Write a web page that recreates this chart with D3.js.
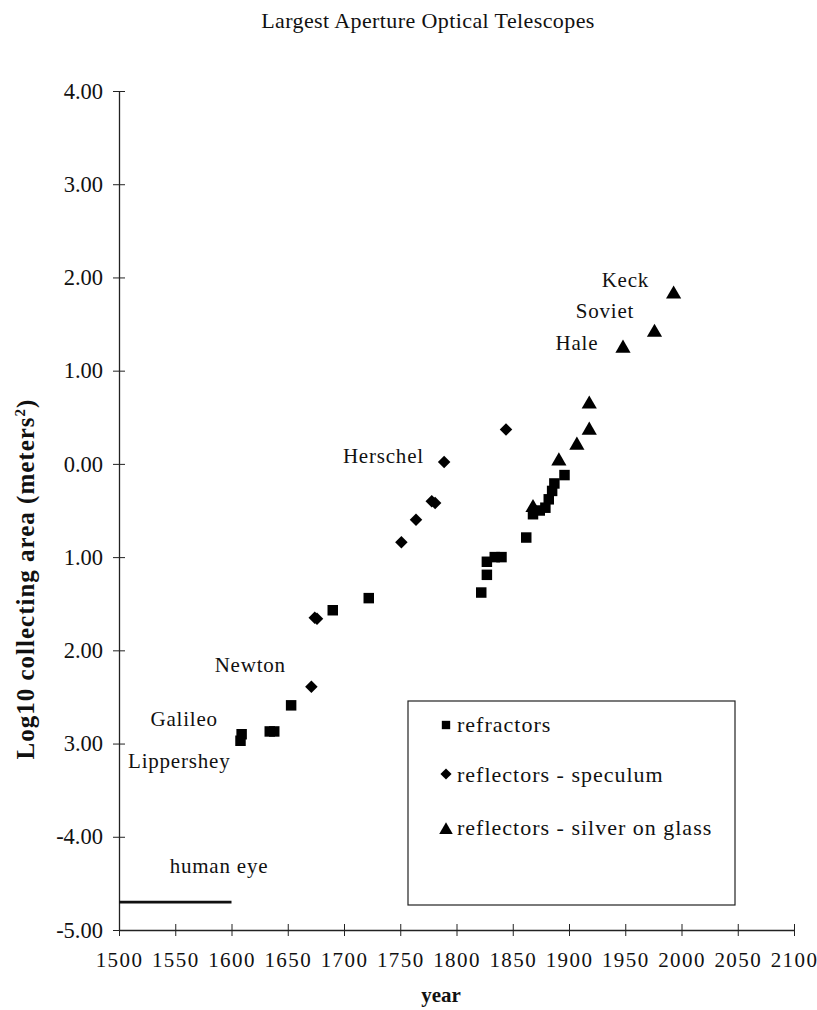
<!DOCTYPE html>
<html>
<head>
<meta charset="utf-8">
<style>
body { margin: 0; background: #fff; }
svg text { font-family: "Liberation Serif", "DejaVu Serif", serif; fill: #111; }
</style>
</head>
<body>
<div id="chart"></div>
<script src="https://cdn.jsdelivr.net/npm/d3@7.8.3/dist/d3.min.js"></script>
<script>
// telescope data (year, log10 area in m^2)
const refractorYears  = [1608, 1609, 1634, 1638, 1653, 1690, 1722, 1822, 1827, 1827, 1834, 1840, 1862, 1868, 1874, 1879, 1882, 1885, 1887, 1896];
const refractorValues = [-2.97, -2.90, -2.87, -2.87, -2.59, -1.57, -1.44, -1.38, -1.19, -1.05, -1.00, -1.00, -0.79, -0.54, -0.50, -0.47, -0.38, -0.29, -0.21, -0.12];

const speculumYears  = [1671, 1674, 1676, 1751, 1764, 1778, 1781, 1789, 1844];
const speculumValues = [-2.39, -1.65, -1.66, -0.84, -0.60, -0.40, -0.42, 0.02, 0.37];

const silverYears  = [1868, 1891, 1907, 1918, 1918, 1948, 1976, 1993];
const silverValues = [-0.47, 0.03, 0.20, 0.36, 0.64, 1.24, 1.41, 1.82];

const eyeYears = [1500, 1600];
const eyeValue = -4.7;

const yTickValues = [4, 3, 2, 1, 0, -1, -2, -3, -4, -5];
const yTickLabels = ["4.00", "3.00", "2.00", "1.00", "0.00", "1.00", "2.00", "3.00", "-4.00", "-5.00"];
const xTickValues = d3.range(1500, 2101, 50);

const nameLabels = ["Keck", "Soviet", "Hale", "Herschel", "Newton", "Galileo", "Lippershey", "human eye"];
const nameYears  = [1929, 1906, 1888, 1699, 1585, 1528, 1508, 1545];
const nameValues = [1.90, 1.57, 1.22, 0.01, -2.23, -2.81, -3.26, -4.39];

const legendLabels = ["refractors", "reflectors - speculum", "reflectors - silver on glass"];

const width = 817, height = 1010;

const svg = d3.select("#chart").append("svg")
    .attr("width", width)
    .attr("height", height);

const x = d3.scaleLinear().domain([1500, 2100]).range([119, 794]);
const y = d3.scaleLinear().domain([-5, 4]).range([930, 91]);

// title
svg.append("text")
    .attr("x", 428).attr("y", 28)
    .attr("text-anchor", "middle")
    .style("font-size", "22px")
    .style("letter-spacing", "0.4px")
    .text("Largest Aperture Optical Telescopes");

// y axis
const yAxis = svg.append("g")
    .attr("transform", `translate(${x(1500)},0)`)
    .call(d3.axisLeft(y)
        .tickValues(yTickValues)
        .tickSizeInner(6).tickSizeOuter(0)
        .tickFormat((d, i) => yTickLabels[i]));
yAxis.select(".domain").attr("stroke", "#222").attr("stroke-width", 1.3);
yAxis.selectAll(".tick line").attr("x2", 12).attr("transform", "translate(-6,0)").attr("stroke", "#222");
yAxis.selectAll(".tick text").attr("x", -16)
    .style("font-size", "22.5px").style("font-family", "'Liberation Serif', serif").attr("fill", "#111");

// x axis
const xAxis = svg.append("g")
    .attr("transform", `translate(0,${y(-5)})`)
    .call(d3.axisBottom(x)
        .tickValues(xTickValues)
        .tickSizeInner(6).tickSizeOuter(0)
        .tickFormat(d3.format("d")));
xAxis.select(".domain").attr("stroke", "#222").attr("stroke-width", 1.3);
xAxis.selectAll(".tick line").attr("y2", 12).attr("transform", "translate(0,-6)").attr("stroke", "#222");
xAxis.selectAll(".tick text").attr("y", 22)
    .style("font-size", "21px").style("letter-spacing", "1.4px")
    .style("font-family", "'Liberation Serif', serif").attr("fill", "#111");

// axis titles
svg.append("text")
    .attr("transform", "translate(34,579) rotate(-90)")
    .attr("text-anchor", "middle")
    .style("font-size", "25px")
    .style("font-weight", "bold")
    .style("letter-spacing", "1px")
    .html('Log10 collecting area (meters<tspan dy="-9" font-size="15px">2</tspan><tspan dy="9">)</tspan>');

svg.append("text")
    .attr("x", 441).attr("y", 1002)
    .attr("text-anchor", "middle")
    .style("font-size", "21px")
    .style("font-weight", "bold")
    .text("year");

// human eye line
svg.append("line")
    .attr("x1", x(eyeYears[0])).attr("x2", x(eyeYears[1]))
    .attr("y1", y(eyeValue)).attr("y2", y(eyeValue))
    .attr("stroke", "#111").attr("stroke-width", 2.8);

// markers
const square = d3.symbol().type(d3.symbolSquare).size(110);
const diamond = d3.symbol().type(d3.symbolSquare).size(78);
const triangle = d3.symbol().type(d3.symbolTriangle).size(100);

svg.append("g").selectAll("path")
    .data(d3.zip(refractorYears, refractorValues))
    .join("path")
    .attr("d", square)
    .attr("transform", d => `translate(${x(d[0])},${y(d[1])})`)
    .attr("fill", "#000");

svg.append("g").selectAll("path")
    .data(d3.zip(speculumYears, speculumValues))
    .join("path")
    .attr("d", diamond)
    .attr("transform", d => `translate(${x(d[0])},${y(d[1])}) rotate(45)`)
    .attr("fill", "#000");

svg.append("g").selectAll("path")
    .data(d3.zip(silverYears, silverValues))
    .join("path")
    .attr("d", triangle)
    .attr("transform", d => `translate(${x(d[0])},${y(d[1])})`)
    .attr("fill", "#000");

// name labels
svg.append("g").selectAll("text")
    .data(d3.zip(nameLabels, nameYears, nameValues))
    .join("text")
    .attr("x", d => x(d[1]))
    .attr("y", d => y(d[2]))
    .style("font-size", "21px")
    .style("letter-spacing", "0.8px")
    .text(d => d[0]);

// legend
const legend = svg.append("g").attr("transform", "translate(408,701)");
legend.append("rect")
    .attr("width", 327).attr("height", 204)
    .attr("fill", "none").attr("stroke", "#222").attr("stroke-width", 1.2);

const legendShapes = [
    d3.symbol().type(d3.symbolSquare).size(70),
    d3.symbol().type(d3.symbolSquare).size(62),
    d3.symbol().type(d3.symbolTriangle).size(80)
];
const legendRows = legend.selectAll("g.row")
    .data(legendLabels)
    .join("g")
    .attr("class", "row")
    .attr("transform", (d, i) => `translate(0,${[31, 81, 134][i]})`);
legendRows.append("path")
    .attr("d", (d, i) => legendShapes[i]())
    .attr("transform", (d, i) => `translate(38,${[-7, -8, -5][i]}) rotate(${i === 1 ? 45 : 0})`)
    .attr("fill", "#000");
legendRows.append("text")
    .attr("x", 49)
    .style("font-size", "22px")
    .style("letter-spacing", "1px")
    .text(d => d);
</script>
</body>
</html>
